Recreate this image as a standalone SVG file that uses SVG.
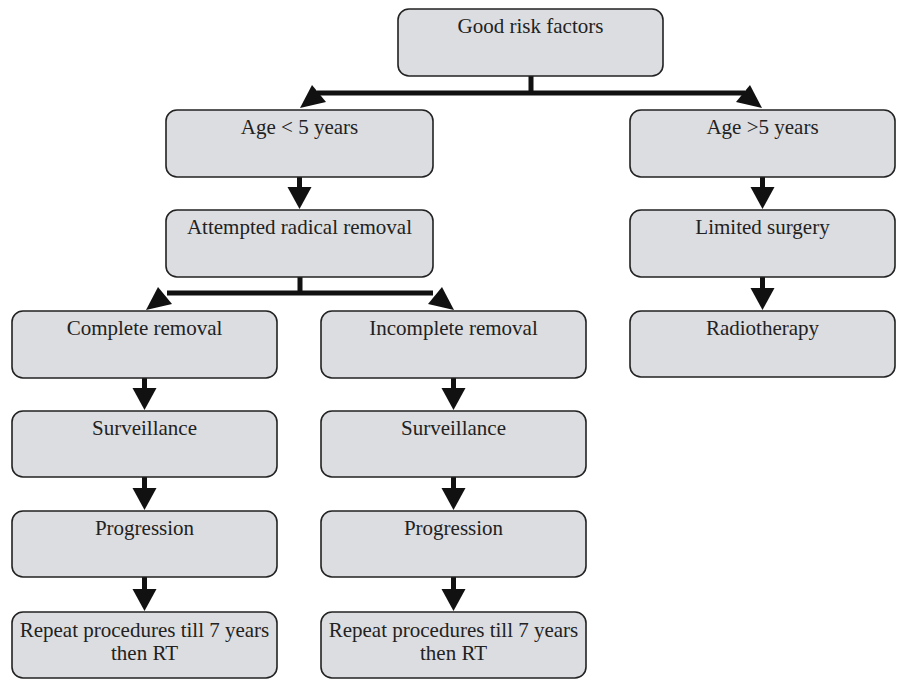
<svg xmlns="http://www.w3.org/2000/svg" width="898" height="679" viewBox="0 0 898 679">
<style>
.box{fill:#dcdde0;stroke:#222;stroke-width:1.6}
.lbl{font-family:"Liberation Serif","Times New Roman",serif;font-size:21px;fill:#222;text-anchor:middle}
.ln{stroke:#111;stroke-width:5;fill:none}
.hd{fill:#111;stroke:none}
</style>
<rect width="898" height="679" fill="#fff"/>
<g id="connectors">
  <!-- top split -->
  <path class="ln" d="M531 76V93M317 93H745"/>
  <polygon class="hd" points="300,108 312,85 326,102"/>
  <polygon class="hd" points="762,108 750,85 736,102"/>
  <!-- bottom split -->
  <path class="ln" d="M300 277V293M167 293H433"/>
  <polygon class="hd" points="146,310 158,287 172,304"/>
  <polygon class="hd" points="454,310 442,287 428,304"/>
  <!-- vertical arrows -->
  <path class="ln" d="M299.5 177V188M762.5 177V188M762.5 277V289M144.5 378V389M453.5 378V389M144.5 477V489M453.5 477V489M144.5 577V590M453.5 577V590"/>
  <polygon class="hd" points="287.5,187 311.5,187 299.5,209"/>
  <polygon class="hd" points="750.5,187 774.5,187 762.5,209"/>
  <polygon class="hd" points="750.5,288 774.5,288 762.5,310"/>
  <polygon class="hd" points="132.5,388 156.5,388 144.5,410"/>
  <polygon class="hd" points="441.5,388 465.5,388 453.5,410"/>
  <polygon class="hd" points="132.5,488 156.5,488 144.5,510"/>
  <polygon class="hd" points="441.5,488 465.5,488 453.5,510"/>
  <polygon class="hd" points="132.5,589 156.5,589 144.5,611"/>
  <polygon class="hd" points="441.5,589 465.5,589 453.5,611"/>
</g>
<g id="good"><rect class="box" x="398" y="9" width="265" height="67" rx="11"/><text class="lbl" x="530.5" y="33">Good risk factors</text></g>
<g id="ageLt5"><rect class="box" x="166" y="110" width="267" height="67" rx="11"/><text class="lbl" x="299.5" y="134">Age &lt; 5 years</text></g>
<g id="attempted"><rect class="box" x="166" y="210" width="267" height="67" rx="11"/><text class="lbl" x="299.5" y="234">Attempted radical removal</text></g>
<g id="ageGt5"><rect class="box" x="630" y="110" width="265" height="67" rx="11"/><text class="lbl" x="762.5" y="134">Age &gt;5 years</text></g>
<g id="limited"><rect class="box" x="630" y="210" width="265" height="67" rx="11"/><text class="lbl" x="762.5" y="234">Limited surgery</text></g>
<g id="radio"><rect class="box" x="630" y="311" width="265" height="66" rx="11"/><text class="lbl" x="762.5" y="335">Radiotherapy</text></g>
<g id="complete"><rect class="box" x="12" y="311" width="265" height="67" rx="11"/><text class="lbl" x="144.5" y="335">Complete removal</text></g>
<g id="incomplete"><rect class="box" x="321" y="311" width="265" height="67" rx="11"/><text class="lbl" x="453.5" y="335">Incomplete removal</text></g>
<g id="survL"><rect class="box" x="12" y="411" width="265" height="66" rx="11"/><text class="lbl" x="144.5" y="435">Surveillance</text></g>
<g id="survR"><rect class="box" x="321" y="411" width="265" height="66" rx="11"/><text class="lbl" x="453.5" y="435">Surveillance</text></g>
<g id="progL"><rect class="box" x="12" y="511" width="265" height="66" rx="11"/><text class="lbl" x="144.5" y="535">Progression</text></g>
<g id="progR"><rect class="box" x="321" y="511" width="265" height="66" rx="11"/><text class="lbl" x="453.5" y="535">Progression</text></g>
<g id="repeatL"><rect class="box" x="12" y="612" width="265" height="66" rx="11"/><text class="lbl" x="144.5" y="637">Repeat procedures till 7 years</text><text class="lbl" x="144.5" y="660">then RT</text></g>
<g id="repeatR"><rect class="box" x="321" y="612" width="265" height="66" rx="11"/><text class="lbl" x="453.5" y="637">Repeat procedures till 7 years</text><text class="lbl" x="453.5" y="660">then RT</text></g>
</svg>
